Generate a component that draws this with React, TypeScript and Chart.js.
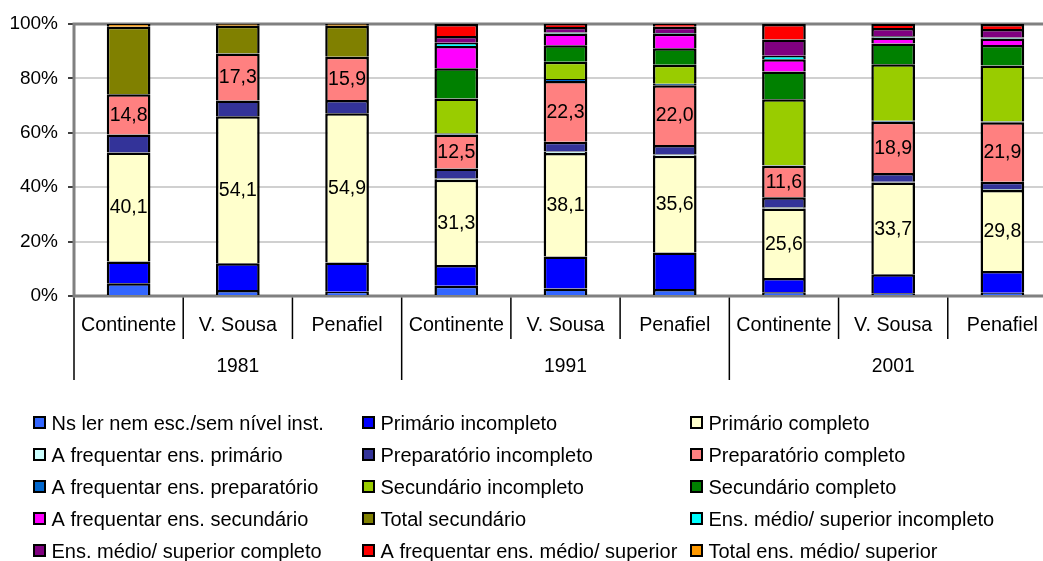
import React, { useEffect, useRef } from 'react';
import { Chart, registerables } from 'chart.js';

Chart.register(...registerables);

// ---------- data ----------
const categories = ['Continente', 'V. Sousa', 'Penafiel', 'Continente', 'V. Sousa', 'Penafiel', 'Continente', 'V. Sousa', 'Penafiel'];
const years = ['1981', '1991', '2001'];
const yTickStep = 20;

const nsLer = [4.7, 2.2, 1.6, 3.8, 2.8, 2.6, 1.4, 1.0, 1.2];
const primarioIncompleto = [8.0, 9.8, 10.7, 7.6, 11.7, 13.4, 5.2, 7.0, 8.0];
const primarioCompleto = [40.1, 54.1, 54.9, 31.3, 38.1, 35.6, 25.6, 33.7, 29.8];
const freqPrimario = [0, 0, 0, 0.5, 0.5, 0.4, 0.4, 0.3, 0.3];
const preparatorioIncompleto = [6.6, 5.8, 4.9, 3.7, 3.6, 3.5, 3.7, 3.2, 2.7];
const preparatorioCompleto = [14.8, 17.3, 15.9, 12.5, 22.3, 22.0, 11.6, 18.9, 21.9];
const freqPreparatorio = [0, 0, 0, 0.3, 0.8, 0.5, 0.2, 0.3, 0.3];
const secundarioIncompleto = [0, 0, 0, 12.9, 6.3, 7.0, 24.2, 20.8, 20.5];
const secundarioCompleto = [0, 0, 0, 11.1, 6.1, 6.1, 10.2, 7.6, 7.6];
const freqSecundario = [0, 0, 0, 8.2, 4.3, 5.3, 4.5, 2.2, 2.4];
const totalSecundario = [24.8, 10.2, 11.4, 0, 0, 0, 0, 0, 0];
const medioIncompleto = [0, 0, 0, 1.2, 0.4, 0.3, 1.3, 0.5, 0.3];
const medioCompleto = [0, 0, 0, 2.5, 2.0, 2.3, 6.0, 3.0, 3.2];
const freqMedio = [0, 0, 0, 4.4, 1.1, 1.0, 5.7, 1.5, 1.8];
const totalMedio = [1.0, 0.6, 0.6, 0, 0, 0, 0, 0, 0];

const seriesLabels = [
  'Ns ler nem esc./sem nível inst.',
  'Primário incompleto',
  'Primário completo',
  'A frequentar ens. primário',
  'Preparatório incompleto',
  'Preparatório completo',
  'A frequentar ens. preparatório',
  'Secundário incompleto',
  'Secundário completo',
  'A frequentar ens. secundário',
  'Total secundário',
  'Ens. médio/ superior incompleto',
  'Ens. médio/ superior completo',
  'A frequentar ens. médio/ superior',
  'Total ens. médio/ superior',
];

const seriesValues = [
  nsLer, primarioIncompleto, primarioCompleto, freqPrimario, preparatorioIncompleto,
  preparatorioCompleto, freqPreparatorio, secundarioIncompleto, secundarioCompleto,
  freqSecundario, totalSecundario, medioIncompleto, medioCompleto, freqMedio, totalMedio,
];

const seriesColors = [
  '#3366FF', '#0000FF', '#FFFFCC', '#CCFFFF', '#333399',
  '#FF8080', '#0066CC', '#99CC00', '#008000', '#FF00FF',
  '#808000', '#00FFFF', '#800080', '#FF0000', '#FF9900',
];

const labeledSeries = [2, 5];

// ---------- styling ----------
const FONT = "'Liberation Sans', Arial, Helvetica, sans-serif";
const W = 1043;
const CANVAS_W = 1057;
const H = 561;

const decorPlugin = {
  id: 'decor',
  beforeDatasetsDraw(chart: any) {
    const { ctx, chartArea: a } = chart;
    ctx.save();
    ctx.strokeStyle = '#808080';
    ctx.lineWidth = 3;
    ctx.beginPath();
    ctx.moveTo(a.right + 3, a.top);
    ctx.lineTo(a.left, a.top);
    ctx.lineTo(a.left, a.bottom);
    ctx.lineTo(a.right + 3, a.bottom);
    ctx.stroke();
    ctx.restore();
  },
  afterDatasetsDraw(chart: any) {
    const { ctx } = chart;
    ctx.save();
    ctx.font = `19.5px ${FONT}`;
    ctx.fillStyle = '#000';
    ctx.textAlign = 'center';
    ctx.textBaseline = 'middle';
    labeledSeries.forEach((di) => {
      const meta = chart.getDatasetMeta(di);
      meta.data.forEach((el: any, j: number) => {
        const v = chart.data.datasets[di].data[j];
        if (!v) return;
        const cy = (el.y + el.base) / 2 + 1;
        ctx.fillText(v.toFixed(1).replace('.', ','), el.x, cy);
      });
    });
    ctx.restore();
  },
  afterDraw(chart: any) {
    const { ctx, chartArea: a } = chart;
    const xs = chart.scales.x;
    const n = categories.length;
    ctx.save();
    // separators under the axis
    ctx.strokeStyle = '#000';
    ctx.lineWidth = 1.5;
    for (let i = 0; i <= n; i++) {
      let bx;
      if (i === 0) bx = a.left;
      else if (i === n) bx = a.right;
      else bx = (xs.getPixelForValue(i - 1) + xs.getPixelForValue(i)) / 2;
      const isGroup = i % 3 === 0;
      ctx.beginPath();
      ctx.moveTo(bx, a.bottom + 1.5);
      ctx.lineTo(bx, a.bottom + (isGroup ? 84 : 43));
      ctx.stroke();
    }
    // category labels
    ctx.fillStyle = '#000';
    ctx.font = `19.7px ${FONT}`;
    ctx.textAlign = 'center';
    ctx.textBaseline = 'middle';
    categories.forEach((c, i) => {
      ctx.fillText(c, xs.getPixelForValue(i), a.bottom + 30);
    });
    ctx.font = `19.3px ${FONT}`;
    years.forEach((y, g) => {
      ctx.fillText(y, xs.getPixelForValue(g * 3 + 1), a.bottom + 71);
    });
    // legend (3 columns, row-major)
    const colX = [33, 362, 690];
    ctx.textAlign = 'left';
    ctx.font = `20px ${FONT}`;
    chart.data.datasets.forEach((ds: any, i: number) => {
      const col = i % 3;
      const row = Math.floor(i / 3);
      const x = colX[col];
      const cy = 423 + row * 32;
      ctx.fillStyle = '#000';
      ctx.fillRect(x, cy - 7, 13, 13);
      ctx.fillStyle = ds.backgroundColor;
      ctx.fillRect(x + 2, cy - 5, 9, 9);
      ctx.fillStyle = '#000';
      ctx.fillText(ds.label, x + 18.5, cy + 1);
    });
    ctx.restore();
  },
};

export default function App() {
  const ref = useRef<HTMLCanvasElement>(null);

  useEffect(() => {
    document.body.style.margin = '0';
    Chart.defaults.font.family = FONT;
    Chart.defaults.color = '#000';
    const chart = new Chart(ref.current as HTMLCanvasElement, {
      type: 'bar',
      data: {
        labels: categories,
        datasets: seriesValues.map((vals, i) => ({
          label: seriesLabels[i],
          data: vals,
          backgroundColor: seriesColors[i],
          borderColor: '#000',
          borderWidth: 2.5,
          borderSkipped: 'start',
          barPercentage: 0.4,
          categoryPercentage: 1.0,
        })),
      },
      options: {
        responsive: false,
        animation: false,
        devicePixelRatio: 1,
        events: [],
        layout: { padding: { top: 24, left: 0, right: 0, bottom: H - 296 } },
        plugins: {
          legend: { display: false },
          tooltip: { enabled: false },
        },
        scales: {
          x: {
            stacked: true,
            display: false,
          },
          y: {
            stacked: true,
            min: 0,
            max: 100,
            afterFit: (scale: any) => {
              scale.width = 74;
            },
            ticks: {
              stepSize: yTickStep,
              padding: 10,
              color: '#000',
              font: { size: 19, family: FONT },
              callback: (v: any) => `${v}%`,
            },
            grid: {
              color: '#d0d0d0',
              lineWidth: 2,
              tickColor: '#000',
              tickLength: 6,
              tickWidth: 1.5,
            },
            border: { display: false },
          },
        },
      },
      plugins: [decorPlugin],
    });
    return () => chart.destroy();
  }, []);

  return (
    <div
      style={{
        position: 'absolute',
        left: 0,
        top: 0,
        width: W,
        height: H,
        overflow: 'hidden',
        background: '#fff',
      }}
    >
      <canvas ref={ref} width={CANVAS_W} height={H} style={{ display: 'block', width: CANVAS_W, height: H }} />
    </div>
  );
}
